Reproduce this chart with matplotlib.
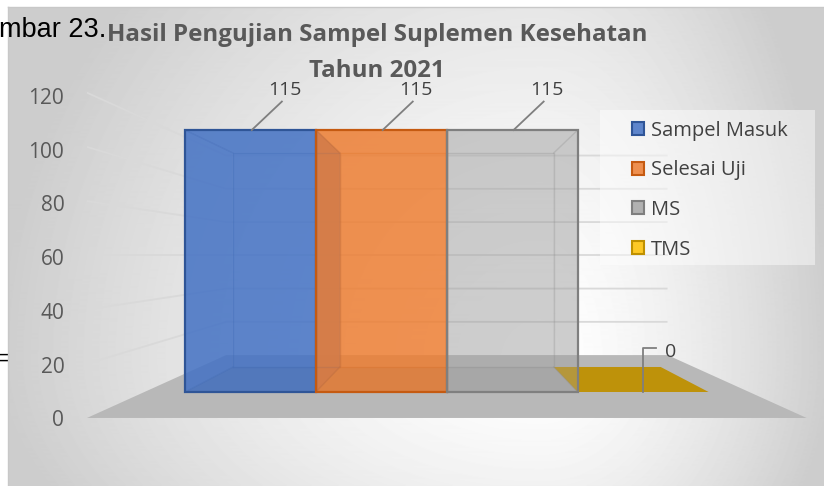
import numpy as np
import matplotlib.pyplot as plt
from matplotlib.patches import Polygon, Patch, Rectangle
from matplotlib.colors import to_rgb, to_rgba

plt.rcParams['font.family'] = ['Open Sans', 'DejaVu Sans']

series = ['Sampel Masuk', 'Selesai Uji', 'MS', 'TMS']
values = [115, 115, 115, 0]
colors = ['#4472C4', '#ED7D31', '#A5A5A5', '#FFC000']
edges = ['#2F5597', '#C55A11', '#7F7F7F', '#BF9000']
bar_alpha = [0.62, 0.6, 0.32, 0.9]
yticks = [0, 20, 40, 60, 80, 100, 120]
title1 = 'Hasil Pengujian Sampel Suplemen Kesehatan'
title2 = 'Tahun 2021'

W, H = 824, 486
# pixel of x=0 / v=0 on the bars front plane, and pixels per unit
X0, XU = 185, 130.9
Y0, YU = 392, 2.278

# fake 3d: vanishing point (data units) and depth scale of each plane
VX, VY = 2.0, 60.0
KF, KB = 1.0, 0.817
K_FLOOR_F, K_FLOOR_B = 1.19, 0.73
K_LABEL = 1.18
WALL_L, WALL_R = -0.31, 4.31


def proj(x, v, k):
    return VX + (x - VX) * k, VY + (v - VY) * k


def darken(c, f):
    r, g, b = to_rgb(c)
    return (r * f, g * f, b * f)


fig = plt.figure(figsize=(W / 100, H / 100), dpi=100)

# background of the chart area (radial-ish grey gradient)
bg = fig.add_axes([8 / W, 0, 1 - 8 / W, 1 - 7 / H])
xx, yy = np.meshgrid(np.arange(8, W), np.arange(7, H))
dx = np.where(xx < 540, (xx - 540) / 540, (xx - 540) / 290)
dy = np.where(yy < 360, (yy - 360) / 560, (yy - 360) / 300)
f = np.clip(np.hypot(dx, dy), 0, 1)
shade = (255 - 50 * f ** 1.5) / 255
bg.imshow(shade, cmap='gray', vmin=0, vmax=1, extent=(0, 1, 0, 1),
          aspect='auto', origin='upper')
bg.set_xlim(0, 1)
bg.set_ylim(0, 1)
bg.set_xticks([])
bg.set_yticks([])
for s in ['right', 'bottom']:
    bg.spines[s].set_visible(False)
for s in ['top', 'left']:
    bg.spines[s].set_color('#C8C8C8')
    bg.spines[s].set_linewidth(1)

ax = fig.add_axes([0, 0, 1, 1], facecolor='none')
ax.set_xlim(-X0 / XU, (W - X0) / XU)
ax.set_ylim((Y0 - H) / YU, Y0 / YU)
ax.axis('off')

# floor
floor = [proj(WALL_L, 0, K_FLOOR_F), proj(WALL_R, 0, K_FLOOR_F),
         proj(WALL_R, 0, K_FLOOR_B), proj(WALL_L, 0, K_FLOOR_B)]
ax.add_patch(Polygon(floor, closed=True, fc='#B8B8B8', ec='none', zorder=1))

# gridlines on side wall and back wall
for v in yticks[1:]:
    a = proj(WALL_L, v, K_FLOOR_F)
    b = proj(WALL_L, v, K_FLOOR_B)
    c = proj(WALL_R, v, K_FLOOR_B)
    ax.plot([a[0], b[0], c[0]], [a[1], b[1], c[1]], color='#D9D9D9',
            lw=1.3, zorder=2, solid_capstyle='butt')

# tick labels
for v in yticks:
    x, y = proj(WALL_L, v, K_LABEL)
    ax.annotate(str(v), (x, y), xytext=(-18.5, -7), textcoords='offset points',
                ha='right', va='baseline', fontsize=15, color='#595959')


def faces(i, v):
    x0, x1 = i, i + 1
    return {
        'back': [proj(x0, 0, KB), proj(x1, 0, KB), proj(x1, v, KB), proj(x0, v, KB)],
        'bottom': [proj(x0, 0, KF), proj(x1, 0, KF), proj(x1, 0, KB), proj(x0, 0, KB)],
        'top': [proj(x0, v, KF), proj(x1, v, KF), proj(x1, v, KB), proj(x0, v, KB)],
        'left': [proj(x0, 0, KF), proj(x0, v, KF), proj(x0, v, KB), proj(x0, 0, KB)],
        'right': [proj(x1, 0, KF), proj(x1, v, KF), proj(x1, v, KB), proj(x1, 0, KB)],
        'front': [proj(x0, 0, KF), proj(x1, 0, KF), proj(x1, v, KF), proj(x0, v, KF)],
    }


# bars: inner faces first
for i, v in enumerate(values):
    fc = faces(i, v)
    if v == 0:
        ax.add_patch(Polygon(fc['top'], closed=True, fc=darken(colors[i], 0.75),
                             ec='none', alpha=0.95, zorder=3))
        continue
    for name in ['back', 'bottom', 'top', 'left', 'right']:
        col = darken(colors[i], 0.85) if name == 'bottom' else colors[i]
        ax.add_patch(Polygon(fc[name], closed=True, fc=col, ec='none',
                             alpha=bar_alpha[i], zorder=3))
    back = fc['back'] + [fc['back'][0]]
    ax.plot([p[0] for p in back], [p[1] for p in back], color=edges[i],
            alpha=0.3, lw=1, zorder=3.5)
    for a, b in zip(fc['front'], fc['back']):
        ax.plot([a[0], b[0]], [a[1], b[1]], color=edges[i], alpha=0.3, lw=1, zorder=3.5)

# front faces
for i, v in enumerate(values):
    if v == 0:
        continue
    ax.add_patch(Polygon(faces(i, v)['front'], closed=True, fc=colors[i],
                         ec='none', alpha=bar_alpha[i], zorder=4))
for i, v in enumerate(values):
    if v == 0:
        continue
    ax.add_patch(Polygon(faces(i, v)['front'], closed=True, fill=False,
                         ec=edges[i], lw=1.6, zorder=5))

# data labels with leader lines
for i, v in enumerate(values):
    if v > 0:
        ax.plot([i + 0.51, i + 0.74], [v, v + 12.5], color='#7F7F7F', lw=1.3, zorder=6)
        ax.text(i + 0.765, v + 15.4, str(v), ha='center', va='baseline',
                fontsize=14, color='#404040', zorder=7)
    else:
        ax.plot([i + 0.5, i + 0.5, i + 0.6], [v, v + 19.3, v + 19.3],
                color='#7F7F7F', lw=1.3, zorder=6)
        ax.text(i + 0.665, v + 15.5, str(v), ha='left', va='baseline',
                fontsize=14, color='#404040', zorder=7)

# legend
ax.add_patch(Rectangle((600 / W, 1 - 265 / H), 215 / W, 155 / H,
                       transform=ax.transAxes, fc='white', alpha=0.45,
                       ec='none', zorder=6))
handles = [Patch(facecolor=to_rgba(c, 0.85), edgecolor=e, lw=1.5)
           for c, e in zip(colors, edges)]
leg = ax.legend(handles, series, loc='upper left',
                bbox_to_anchor=(632 / W, 1 - 120.5 / H), frameon=False,
                fontsize=14.5, handlelength=0.62, handleheight=0.62,
                handletextpad=0.3, labelspacing=0.98, borderpad=0,
                borderaxespad=0)
leg.set_zorder(8)
for t in leg.get_texts():
    t.set_color('#404040')

# title
fig.text(377 / W, 1 - 41 / H, title1, ha='center', va='baseline',
         fontsize=17.4, fontweight='bold', color='#595959')
fig.text(377 / W, 1 - 77 / H, title2, ha='center', va='baseline',
         fontsize=17.4, fontweight='bold', color='#595959')

# caption text of the page behind the chart
fig.text(-1 / W, 1 - 37 / H, 'mbar 23.', ha='left', va='baseline',
         fontsize=19.5, color='black', family='Liberation Sans')
fig.text(9 / W, 1 - 365 / H, '=', ha='right', va='baseline',
         fontsize=16, color='black', family='Liberation Sans')

fig.savefig('out.png', dpi=100)
